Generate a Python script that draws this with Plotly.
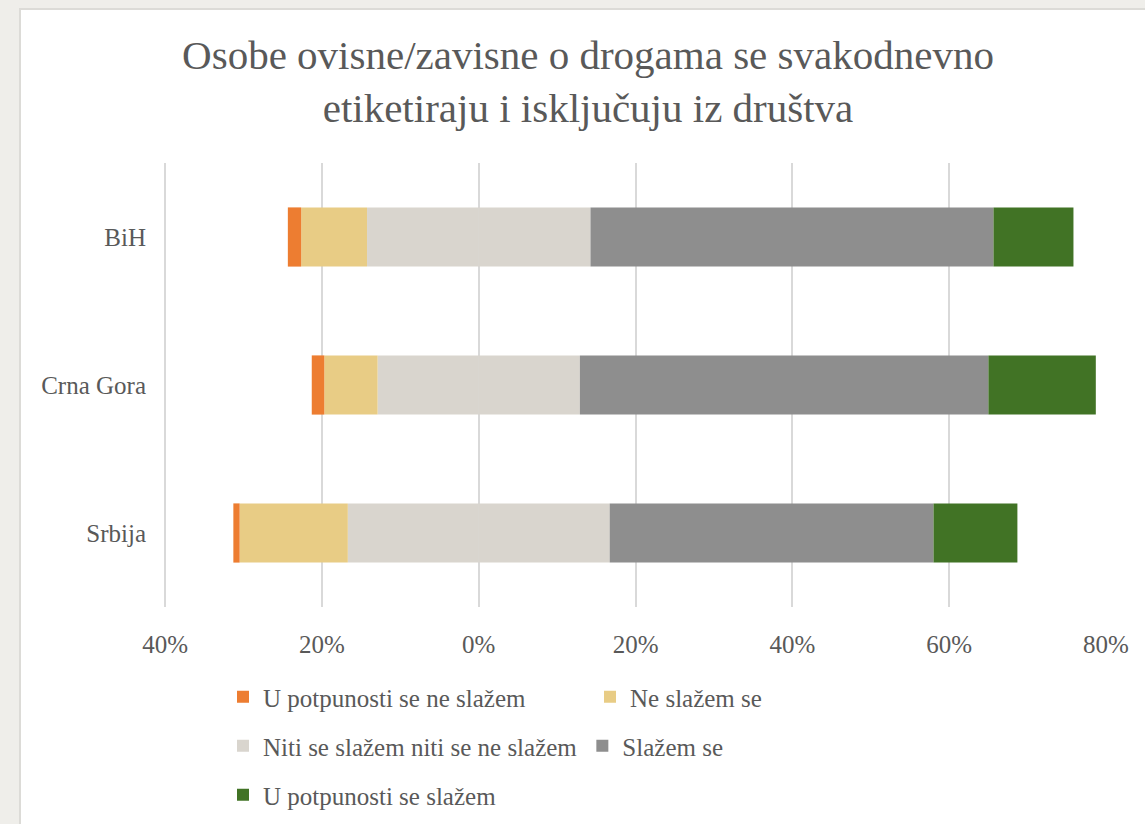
import plotly.graph_objects as go

# Podaci (procenti)
zemlje = ["BiH", "Crna Gora", "Srbija"]
u_potpunosti_ne = [1.7, 1.6, 0.8]
ne_slazem = [8.4, 6.8, 13.8]
niti = [28.5, 25.8, 33.4]
slazem = [51.4, 52.1, 41.3]
u_potpunosti_da = [10.2, 13.7, 10.7]

naslov = "Osobe ovisne/zavisne o drogama se svakodnevno<br>etiketiraju i isključuju iz društva"
tick_vals = [-40, -20, 0, 20, 40, 60, 80]
tick_text = ["40%", "20%", "0%", "20%", "40%", "60%", "80%"]

boje = {
    "u_ne": "#ED7D31",
    "ne": "#E8CC85",
    "niti": "#D9D5CE",
    "da": "#8E8E8E",
    "u_da": "#417325",
}

FONT = "Liberation Serif"
TXT = "#595959"
BG = "#EFEEEA"

fig = go.Figure()

def bar(vals, name, color, legend, rank, show=True, group=None):
    fig.add_trace(go.Bar(
        y=zemlje, x=vals, orientation="h", name=name,
        marker=dict(color=color, line=dict(width=0)),
        legend=legend, legendrank=rank, showlegend=show,
        legendgroup=group or name,
    ))

# lijeva strana (negativno) - slaže se od nule prema van
bar([-v / 2 for v in niti], "Niti se slažem niti se ne slažem", boje["niti"], "legend2", 1, show=False, group="niti")
bar([-v for v in ne_slazem], "Ne slažem se", boje["ne"], "legend", 2)
bar([-v for v in u_potpunosti_ne], "U potpunosti se ne slažem", boje["u_ne"], "legend", 1)
# desna strana
bar([v / 2 for v in niti], "Niti se slažem niti se ne slažem", boje["niti"], "legend2", 1, group="niti")
bar(slazem, "Slažem se", boje["da"], "legend2", 2)
bar(u_potpunosti_da, "U potpunosti se slažem", boje["u_da"], "legend3", 1)

W, H = 1145, 824
ml, mr, mt, mb = 162, 39, 163, 217
pw, ph = W - ml - mr, H - mt - mb

def px_x(x):
    return (x - ml) / pw

def px_y(y):
    return (H - mb - y) / ph

leg_font = dict(family=FONT, size=25, color=TXT)
leg_common = dict(orientation="h", xanchor="left", yanchor="middle",
                  font=leg_font, bgcolor="rgba(0,0,0,0)", traceorder="normal")

fig.update_layout(
    width=W, height=H,
    margin=dict(l=ml, r=mr, t=mt, b=mb, autoexpand=False),
    paper_bgcolor=BG,
    plot_bgcolor="rgba(0,0,0,0)",
    barmode="relative",
    bargap=0.6,
    title=dict(
        text=naslov, x=588 / W, xanchor="center", y=1 - 69 / H, yanchor="middle",
        font=dict(family=FONT, size=41, color=TXT),
    ),
    font=dict(family=FONT, size=25, color=TXT),
    xaxis=dict(
        range=[-40.4, 80], tickvals=tick_vals, ticktext=tick_text,
        showgrid=True, gridcolor="#D9D9D9", gridwidth=2, zeroline=False,
        showline=False, ticks="", ticklabelstandoff=20,
        tickfont=dict(family=FONT, size=25, color=TXT),
    ),
    yaxis=dict(
        autorange="reversed", showgrid=False, zeroline=False, showline=False,
        ticks="", ticklabelstandoff=15,
        tickfont=dict(family=FONT, size=25, color=TXT),
    ),
    legend=dict(x=px_x(223), y=px_y(697), entrywidth=322, **leg_common),
    legend2=dict(x=px_x(223), y=px_y(746), **leg_common),
    legend3=dict(x=px_x(223), y=px_y(795), **leg_common),
    shapes=[
        dict(type="rect", xref="paper", yref="paper", layer="below",
             x0=px_x(20), x1=px_x(W + 5), y0=px_y(H + 5), y1=px_y(9),
             fillcolor="white", line=dict(color="#DCDBD7", width=2)),
    ],
)

fig.write_html(
    "out.html",
    config={"displayModeBar": False},
    post_script=f"document.body.style.margin='0';document.body.style.background='{BG}';",
)
